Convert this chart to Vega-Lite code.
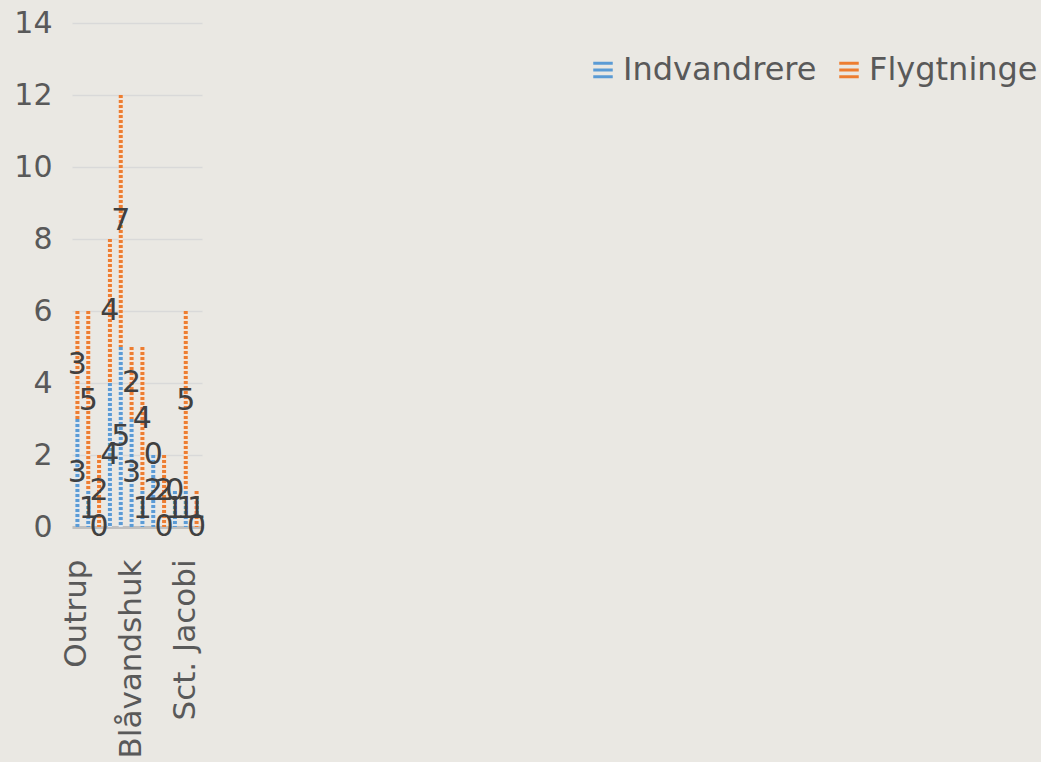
{
  "$schema": "https://vega.github.io/schema/vega-lite/v6.json",
  "width": 130,
  "height": 504,
  "autosize": {"type": "none"},
  "padding": {"left": 72, "top": 23, "right": 839, "bottom": 235},
  "background": "#EAE8E3",
  "config": {"view": {"stroke": null}, "font": "DejaVu Sans"},
  "data": {
    "values": [
      {"area": "Outrup", "series": "Indvandrere", "s": 0, "v": 3},
      {"area": "Outrup", "series": "Flygtninge", "s": 1, "v": 3},
      {"area": "Område 2", "series": "Indvandrere", "s": 0, "v": 1},
      {"area": "Område 2", "series": "Flygtninge", "s": 1, "v": 5},
      {"area": "Område 3", "series": "Indvandrere", "s": 0, "v": 0},
      {"area": "Område 3", "series": "Flygtninge", "s": 1, "v": 2},
      {"area": "Område 4", "series": "Indvandrere", "s": 0, "v": 4},
      {"area": "Område 4", "series": "Flygtninge", "s": 1, "v": 4},
      {"area": "Område 5", "series": "Indvandrere", "s": 0, "v": 5},
      {"area": "Område 5", "series": "Flygtninge", "s": 1, "v": 7},
      {"area": "Blåvandshuk", "series": "Indvandrere", "s": 0, "v": 3},
      {"area": "Blåvandshuk", "series": "Flygtninge", "s": 1, "v": 2},
      {"area": "Område 7", "series": "Indvandrere", "s": 0, "v": 1},
      {"area": "Område 7", "series": "Flygtninge", "s": 1, "v": 4},
      {"area": "Område 8", "series": "Indvandrere", "s": 0, "v": 2},
      {"area": "Område 8", "series": "Flygtninge", "s": 1, "v": 0},
      {"area": "Område 9", "series": "Indvandrere", "s": 0, "v": 0},
      {"area": "Område 9", "series": "Flygtninge", "s": 1, "v": 2},
      {"area": "Område 10", "series": "Indvandrere", "s": 0, "v": 1},
      {"area": "Område 10", "series": "Flygtninge", "s": 1, "v": 0},
      {"area": "Sct. Jacobi", "series": "Indvandrere", "s": 0, "v": 1},
      {"area": "Sct. Jacobi", "series": "Flygtninge", "s": 1, "v": 5},
      {"area": "Område 12", "series": "Indvandrere", "s": 0, "v": 0},
      {"area": "Område 12", "series": "Flygtninge", "s": 1, "v": 1}
    ]
  },
  "encoding": {
    "x": {
      "field": "area",
      "type": "nominal",
      "sort": null,
      "scale": {"paddingInner": 0, "paddingOuter": 0},
      "axis": {
        "title": null,
        "values": ["Outrup", "Blåvandshuk", "Sct. Jacobi"],
        "labelAngle": -90,
        "labelFontSize": 31,
        "labelFont": "DejaVu Sans",
        "labelColor": "#595959",
        "labelPadding": 32,
        "labelLimit": 400,
        "ticks": false,
        "grid": false,
        "domainColor": "#BFBFBF",
        "domainWidth": 3
      }
    },
    "y": {
      "field": "v",
      "type": "quantitative",
      "stack": "zero",
      "scale": {"domain": [0, 14], "nice": false},
      "axis": {
        "title": null,
        "values": [0, 2, 4, 6, 8, 10, 12, 14],
        "domain": false,
        "ticks": false,
        "labelFontSize": 30,
        "labelFont": "DejaVu Sans",
        "labelColor": "#595959",
        "labelPadding": 20,
        "gridColor": "#D9D9D9",
        "gridWidth": 1.5
      }
    },
    "order": {"field": "s"}
  },
  "layer": [
    {
      "mark": {"type": "rule", "strokeWidth": 4},
      "encoding": {
        "stroke": {
          "field": "s",
          "type": "nominal",
          "scale": {"domain": [0, 1], "range": ["#DCE7F2", "#F8E3D3"]},
          "legend": null
        }
      }
    },
    {
      "mark": {"type": "rule", "strokeWidth": 4, "strokeDash": [3, 2], "strokeCap": "butt"},
      "encoding": {
        "color": {
          "field": "series",
          "type": "nominal",
          "scale": {"domain": ["Indvandrere", "Flygtninge"], "range": ["#5B9BD5", "#ED7D31"]},
          "legend": {
            "title": null,
            "orient": "none",
            "direction": "horizontal",
            "legendX": 515,
            "legendY": 31,
            "symbolType": "M-1,-0.7H1M-1,0H1M-1,0.7H1",
            "symbolSize": 380,
            "symbolStrokeWidth": 3,
            "labelFontSize": 32,
            "labelFont": "DejaVu Sans",
            "labelColor": "#595959",
            "labelOffset": 4,
            "columnPadding": 16,
            "labelLimit": 400,
            "encode": {"symbols": {"update": {"strokeDash": {"value": []}}}}
          }
        }
      }
    },
    {
      "mark": {"type": "text", "fontSize": 30, "font": "DejaVu Sans", "align": "center", "baseline": "middle", "color": "#404040"},
      "encoding": {
        "y": {"field": "v", "type": "quantitative", "stack": "zero", "bandPosition": 0.5},
        "text": {"field": "v", "type": "quantitative"}
      }
    }
  ]
}
